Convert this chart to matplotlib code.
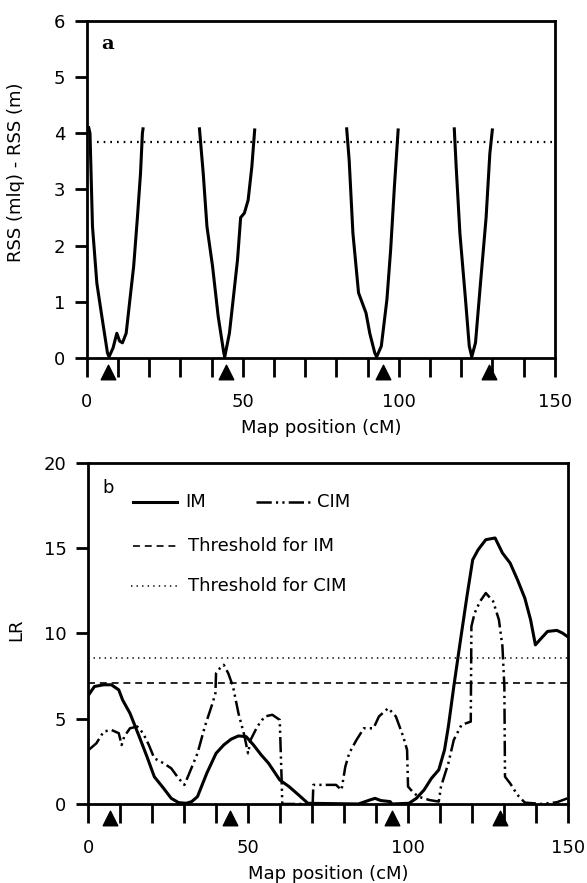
import numpy as np
import matplotlib
matplotlib.use("Agg")
import matplotlib.pyplot as plt
from matplotlib.transforms import blended_transform_factory

plt.rcParams['font.family'] = ['DejaVu Sans']
plt.rcParams['lines.scale_dashes'] = False

# ---- panel a: RSS(m|q) - RSS(m) around each marker interval ----
rss_x1 = [0.6, 1.0, 1.8, 3.2, 4.8, 6.6, 7.1, 8.4, 9.6, 10.5, 11.4, 12.6, 13.8, 15.0, 16.2, 17.2, 17.8, 18.0]
rss_y1 = [4.1, 4.0, 2.34, 1.33, 0.74, 0.09, 0.02, 0.18, 0.44, 0.3, 0.27, 0.44, 1.04, 1.63, 2.5, 3.29, 4.0, 4.08]
rss_x2 = [36.1, 37.3, 38.5, 40.3, 42.1, 43.9, 44.2, 45.7, 46.9, 48.3, 49.3, 50.5, 51.7, 52.9, 53.8]
rss_y2 = [4.08, 3.29, 2.34, 1.63, 0.74, 0.09, 0.02, 0.44, 1.04, 1.75, 2.5, 2.58, 2.81, 3.41, 4.06]
rss_x3 = [83.3, 84.1, 85.3, 87.1, 89.5, 90.7, 92.3, 92.9, 94.4, 96.2, 97.4, 98.6, 99.8]
rss_y3 = [4.08, 3.52, 2.22, 1.16, 0.8, 0.44, 0.09, 0.02, 0.21, 1.04, 1.93, 3.05, 4.06]
rss_x4 = [117.8, 118.4, 119.6, 121.4, 122.6, 123.4, 124.6, 126.2, 128.0, 129.2, 130.0]
rss_y4 = [4.08, 3.41, 2.22, 1.04, 0.21, 0.02, 0.27, 1.33, 2.5, 3.64, 4.06]
rss_threshold = 3.84

# ---- panel b: likelihood ratio profiles ----
im_x = [0.2, 2.0, 4.9, 7.3, 9.6, 10.8, 13.1, 16.0, 18.4, 20.7, 23.6, 26.0, 28.3, 30.7, 32.4, 34.2,
        37.1, 40.0, 42.4, 44.7, 47.0, 49.4, 51.7, 54.1, 56.4, 59.9, 62.8, 65.8, 68.7, 84.5, 88.0,
        89.7, 91.5, 94.4, 95.0, 100.3, 102.6, 105.0, 107.3, 109.6, 111.4, 112.6, 114.3, 116.1,
        118.4, 120.2, 121.9, 124.3, 127.2, 129.5, 131.9, 134.2, 136.5, 138.3, 139.8, 141.2, 143.6,
        146.5, 148.3, 149.8]
im_lr = [6.4, 6.89, 6.99, 6.99, 6.69, 6.1, 5.32, 3.95, 2.78, 1.6, 0.92, 0.33, 0.08, 0.04, 0.14, 0.43,
         1.8, 2.97, 3.46, 3.8, 3.99, 3.95, 3.46, 2.88, 2.39, 1.41, 1.02, 0.53, 0.04, 0.0, 0.23,
         0.33, 0.2, 0.14, 0.0, 0.04, 0.33, 0.82, 1.5, 2.0, 3.17, 4.54, 6.89, 9.24,
         12.17, 14.32, 14.91, 15.5, 15.6, 14.72, 14.13, 13.15, 12.07, 10.8, 9.33, 9.63, 10.12,
         10.18, 10.02, 9.82]

cim_x = [0.2, 2.6, 4.9, 7.3, 9.6, 10.5, 11.3, 13.1, 15.4, 17.2, 19.0, 20.7, 23.6, 26.0, 28.3, 30.1,
         31.2, 34.2, 36.5, 38.9, 39.8, 40.0, 41.2, 42.4, 43.8, 45.3, 47.0, 48.8, 50.0, 50.8, 52.9,
         55.2, 57.6, 59.9, 60.5, 60.7, 70.2, 70.4, 77.5, 79.2, 80.4, 81.6, 83.9, 86.2, 89.2, 90.9,
         93.8, 96.2, 98.5, 99.7, 100.0, 101.4, 103.2, 106.7, 109.6, 110.3, 112.6, 114.3, 116.7,
         119.6, 119.8, 120.8, 122.5, 124.3, 126.6, 128.4, 129.5, 130.1, 130.3, 131.9, 134.2,
         136.5, 141.8, 146.5, 149.8]
cim_lr = [3.17, 3.56, 4.25, 4.34, 4.15, 3.46, 3.95, 4.44, 4.54, 4.15, 3.46, 2.68, 2.39, 2.09, 1.5, 1.12,
          1.6, 2.97, 4.54, 5.91, 6.5, 7.67, 7.96, 8.16, 7.67, 6.89, 5.32, 4.05, 2.97, 3.76, 4.54,
          5.13, 5.23, 4.93, 1.41, 0.0, 0.0, 1.12, 1.12, 0.82, 2.19, 2.97, 3.76, 4.44, 4.44, 5.13,
          5.62, 5.13, 3.95, 3.17, 1.02, 0.72, 0.43, 0.23, 0.14, 1.02, 2.39, 3.76, 4.64,
          4.83, 10.41, 11.19, 11.88, 12.37, 11.88, 10.8, 9.24, 6.89, 1.6, 1.21, 0.53,
          0.08, 0.0, 0.1, 0.33]

im_threshold = 7.12
cim_threshold = 8.59

markers = [6.8, 44.5, 95.0, 128.8]
x_ticks = list(range(0, 151, 10))
x_ticklabels = [str(t) if t % 50 == 0 else '' for t in x_ticks]

FS = 13
cim_dash = (0, (11, 3, 1.6, 3, 1.6, 3))


def style_axes(ax, yticks):
    ax.set_xlim(0, 150)
    ax.set_xticks(x_ticks)
    ax.set_xticklabels(x_ticklabels)
    ax.set_yticks(yticks)
    ax.set_ylim(yticks[0], yticks[-1])
    for s in ax.spines.values():
        s.set_linewidth(2.0)
    ax.tick_params(axis='x', direction='out', length=14, width=2.0, pad=11, labelsize=FS)
    ax.tick_params(axis='y', direction='out', length=8.5, width=2.0, pad=7, labelsize=FS)
    ax.set_xlabel('Map position (cM)', fontsize=FS, labelpad=6)
    # marker positions as triangles under the axis
    trans = blended_transform_factory(ax.transData, ax.transAxes)
    ax.scatter(markers, [-0.042] * len(markers), marker='^', s=110, color='black',
               transform=trans, clip_on=False, zorder=5)


fig = plt.figure(figsize=(5.87, 8.83), dpi=100)

# panel a
ax1 = fig.add_axes([0.148, 0.5946, 0.797, 0.3816])
for xs, ys in [(rss_x1, rss_y1), (rss_x2, rss_y2), (rss_x3, rss_y3), (rss_x4, rss_y4)]:
    ax1.plot(xs, ys, color='black', lw=2.2, solid_joinstyle='round')
ax1.plot([3.2, 150], [rss_threshold, rss_threshold], color='black', lw=1.6,
         linestyle=(0, (1.2, 3.6)))
style_axes(ax1, [0, 1, 2, 3, 4, 5, 6])
ax1.set_ylabel('RSS (mlq) - RSS (m)', fontsize=FS)
ax1.yaxis.set_label_coords(-0.132, 0.55)
ax1.text(0.045, 0.932, 'a', transform=ax1.transAxes, fontsize=14, fontweight='bold',
         family='DejaVu Serif', ha='center', va='center')

# panel b
ax2 = fig.add_axes([0.150, 0.0895, 0.8177, 0.3862])
ax2.plot(im_x, im_lr, color='black', lw=2.2)
ax2.plot(cim_x, cim_lr, color='black', lw=1.8, linestyle=cim_dash)
ax2.axhline(im_threshold, color='black', lw=1.2, linestyle=(0, (5, 3.5)))
ax2.axhline(cim_threshold, color='black', lw=1.1, linestyle=(0, (1, 3)))
style_axes(ax2, [0, 5, 10, 15, 20])
ax2.set_ylabel('LR', fontsize=FS)
ax2.yaxis.set_label_coords(-0.131, 0.51)
ax2.text(0.0417, 0.927, 'b', transform=ax2.transAxes, fontsize=FS,
         ha='center', va='center')

# hand-placed legend
t = ax2.transAxes
ax2.plot([0.094, 0.185], [0.886, 0.886], color='black', lw=2.2, transform=t)
ax2.text(0.202, 0.886, 'IM', transform=t, fontsize=FS, va='center')
ax2.plot([0.35, 0.465], [0.886, 0.886], color='black', lw=1.8, linestyle=cim_dash, transform=t)
ax2.text(0.477, 0.886, 'CIM', transform=t, fontsize=FS, va='center')
ax2.plot([0.094, 0.185], [0.757, 0.757], color='black', lw=1.2, linestyle=(0, (5, 3.5)), transform=t)
ax2.text(0.208, 0.757, 'Threshold for IM', transform=t, fontsize=FS, va='center')
ax2.plot([0.09, 0.185], [0.639, 0.639], color='black', lw=1.1, linestyle=(0, (1, 3)), transform=t)
ax2.text(0.208, 0.639, 'Threshold for CIM', transform=t, fontsize=FS, va='center')

fig.savefig('out.png', dpi=100)
